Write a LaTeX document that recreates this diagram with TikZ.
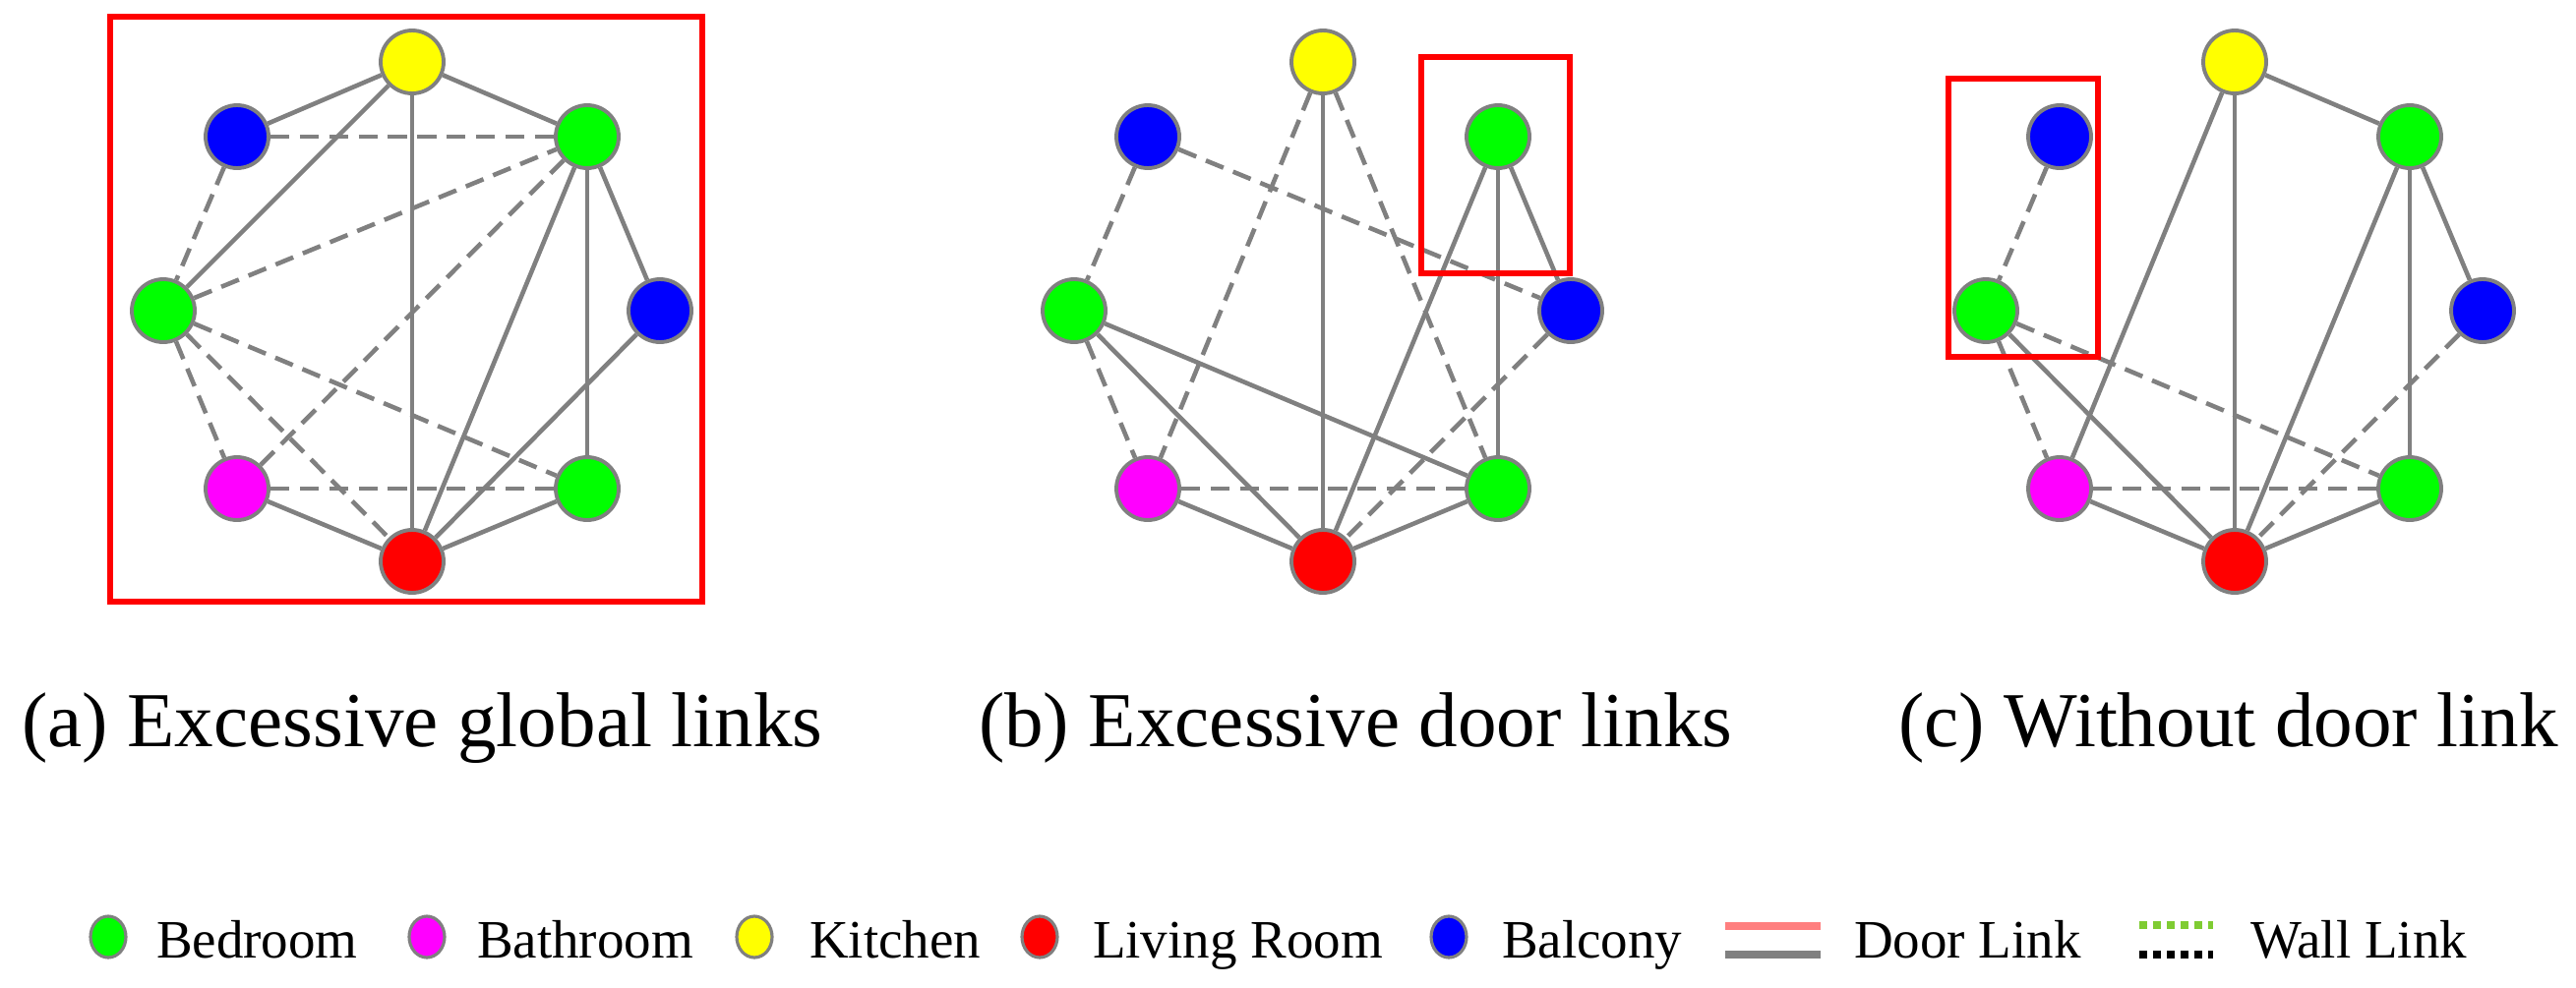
\documentclass[tikz,border=0pt]{standalone}
\usepackage{fontspec}
\setmainfont{Liberation Serif}
\definecolor{linkgray}{HTML}{808080}
\definecolor{bedroomc}{HTML}{00FF00}
\definecolor{bathroomc}{HTML}{FF00FF}
\definecolor{kitchenc}{HTML}{FFFF00}
\definecolor{livingc}{HTML}{FF0000}
\definecolor{balconyc}{HTML}{0000FF}
\definecolor{doorpink}{HTML}{FF7F7F}
\definecolor{wallgreen}{HTML}{7FCC33}
\tikzset{
  room/.style={circle, draw=linkgray, line width=2.2pt, minimum size=1.28cm, inner sep=0pt},
  door/.style={draw=linkgray, line width=2.6pt},
  wall/.style={draw=linkgray, line width=2.6pt, dash pattern=on 11pt off 6pt},
  hilite/.style={draw=red, line width=3.2pt},
  legdot/.style={ellipse, draw=linkgray, line width=1.8pt, minimum width=0.72cm, minimum height=0.84cm, inner sep=0pt},
  legtext/.style={anchor=base west, inner sep=0pt, outer sep=0pt, font=\fontsize{31.3}{36}\selectfont},
  captext/.style={anchor=base west, inner sep=0pt, outer sep=0pt, font=\fontsize{45}{54}\selectfont},
}
\usetikzlibrary{shapes.geometric}
\newcommand\roomgraph[2]{%
  \node[room, fill=kitchenc]  (#1K)   at (#2,63) {};
  \node[room, fill=balconyc]  (#1TL)  at (#2-178,139) {};
  \node[room, fill=bedroomc]  (#1TR)  at (#2+178,139) {};
  \node[room, fill=bedroomc]  (#1GL)  at (#2-253,316) {};
  \node[room, fill=balconyc]  (#1BR)  at (#2+252,316) {};
  \node[room, fill=bathroomc] (#1P)   at (#2-178,497) {};
  \node[room, fill=bedroomc]  (#1GB)  at (#2+178,497) {};
  \node[room, fill=livingc]   (#1L)   at (#2,571) {};
}
\begin{document}
\begin{tikzpicture}[x=0.02cm, y=-0.02cm]
\useasboundingbox (0,0) rectangle (2619,1004);
% ---------- panel (a)
\roomgraph{a}{419}
\draw[door] (aK) -- (aTL);
\draw[door] (aK) -- (aTR);
\draw[door] (aK) -- (aGL);
\draw[door] (aK) -- (aL);
\draw[door] (aTR) -- (aBR);
\draw[door] (aTR) -- (aGB);
\draw[door] (aTR) -- (aL);
\draw[door] (aBR) -- (aL);
\draw[door] (aP) -- (aL);
\draw[door] (aGB) -- (aL);
\draw[wall] (aTL) -- (aTR);
\draw[wall] (aTL) -- (aGL);
\draw[wall] (aGL) -- (aTR);
\draw[wall] (aP) -- (aTR);
\draw[wall] (aGL) -- (aGB);
\draw[wall] (aGL) -- (aL);
\draw[wall] (aGL) -- (aP);
\draw[wall] (aP) -- (aGB);
\draw[hilite] (112,17) rectangle (714,612);
% ---------- panel (b)
\roomgraph{b}{1345}
\draw[door] (bK) -- (bL);
\draw[door] (bTR) -- (bL);
\draw[door] (bTR) -- (bGB);
\draw[door] (bTR) -- (bBR);
\draw[door] (bGL) -- (bGB);
\draw[door] (bGL) -- (bL);
\draw[door] (bP) -- (bL);
\draw[door] (bGB) -- (bL);
\draw[wall] (bK) -- (bP);
\draw[wall] (bK) -- (bGB);
\draw[wall] (bTL) -- (bBR);
\draw[wall] (bTL) -- (bGL);
\draw[wall] (bGL) -- (bP);
\draw[wall] (bP) -- (bGB);
\draw[wall] (bBR) -- (bL);
\draw[hilite] (1445,58) rectangle (1596,278);
% ---------- panel (c)
\roomgraph{c}{2272}
\draw[door] (cK) -- (cTR);
\draw[door] (cK) -- (cP);
\draw[door] (cK) -- (cL);
\draw[door] (cTR) -- (cL);
\draw[door] (cTR) -- (cGB);
\draw[door] (cTR) -- (cBR);
\draw[door] (cGL) -- (cL);
\draw[door] (cP) -- (cL);
\draw[door] (cGB) -- (cL);
\draw[wall] (cTL) -- (cGL);
\draw[wall] (cGL) -- (cGB);
\draw[wall] (cGL) -- (cP);
\draw[wall] (cP) -- (cGB);
\draw[wall] (cBR) -- (cL);
\draw[hilite] (1981,80) rectangle (2133,363);
% ---------- captions
\node[captext] (capa) at (22,759) {(a) Excessive global links};
\node[captext] (capb) at (995,759) {(b) Excessive door links};
\node[captext] (capc) at (1930,759) {(c) Without door link};
% ---------- legend
\node[legdot, fill=bedroomc]  (lg1) at (110,953) {};
\node[legtext] (lt1) at (159,974) {Bedroom};
\node[legdot, fill=bathroomc] (lg2) at (434,953) {};
\node[legtext] (lt2) at (485,974) {Bathroom};
\node[legdot, fill=kitchenc]  (lg3) at (767,953) {};
\node[legtext] (lt3) at (823,974) {Kitchen};
\node[legdot, fill=livingc]   (lg4) at (1057,953) {};
\node[legtext] (lt4) at (1111,974) {Living Room};
\node[legdot, fill=balconyc]  (lg5) at (1473,953) {};
\node[legtext] (lt5) at (1527,974) {Balcony};
\coordinate (dpa) at (1754,942);
\coordinate (dpb) at (1851,942);
\coordinate (dga) at (1754,971);
\coordinate (dgb) at (1851,971);
\draw[line width=4pt, doorpink] (dpa) -- (dpb);
\draw[line width=5pt, linkgray] (dga) -- (dgb);
\node[legtext] (lt6) at (1885,974) {Door Link};
\coordinate (wga) at (2175,941);
\coordinate (wgb) at (2250,941);
\coordinate (wba) at (2175,971);
\coordinate (wbb) at (2250,971);
\draw[line width=4.5pt, wallgreen, dash pattern=on 4.5pt off 3.5pt] (wga) -- (wgb);
\draw[line width=4.5pt, black, dash pattern=on 4.5pt off 3.5pt] (wba) -- (wbb);
\node[legtext] (lt7) at (2288,974) {Wall Link};
\end{tikzpicture}
\end{document}
